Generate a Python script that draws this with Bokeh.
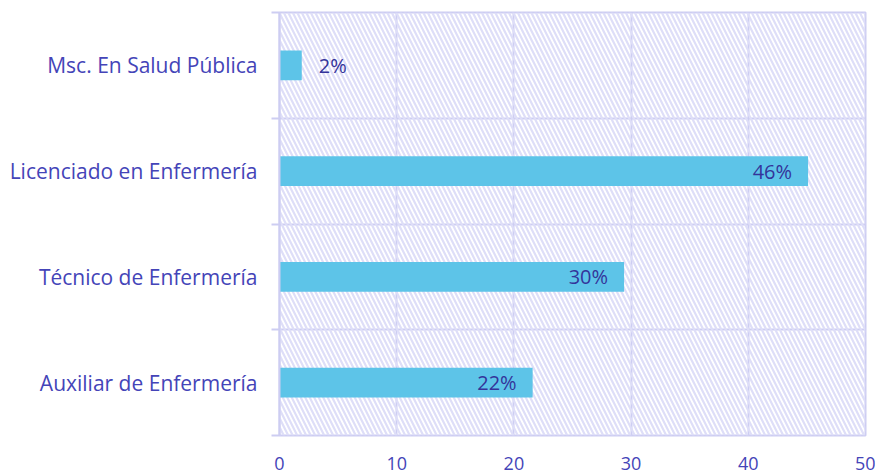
from bokeh.plotting import figure
from bokeh.models import FixedTicker, BoxAnnotation, ColumnDataSource
from bokeh.core.properties import value
from bokeh.embed import file_html
from bokeh.resources import INLINE

categories = ["Auxiliar de Enfermería", "Técnico de Enfermería", "Licenciado en Enfermería", "Msc. En Salud Pública"]
values = [21.6, 29.4, 45.1, 1.9]
labels = ["22%", "30%", "46%", "2%"]
x_ticks = [0, 10, 20, 30, 40, 50]

FONT = "Open Sans"
LAV = "#cdcdf2"
BLUE = "#4444b8"
DARK = "#34349a"
BAR = "#5dc4e8"

ypos = [i + 0.5 for i in range(len(categories))]

p = figure(width=875, height=476, output_backend="svg", toolbar_location=None,
           x_range=(0, 50), y_range=(0, len(categories)),
           min_border_left=279, min_border_right=10, min_border_top=12, min_border_bottom=41)
p.background_fill_color = "white"
p.border_fill_color = "white"
p.outline_line_color = LAV
p.outline_line_width = 2

hatch = BoxAnnotation(fill_alpha=0, line_alpha=0, hatch_pattern="\\", hatch_color="#dedef8",
                      hatch_scale=9, hatch_weight=2.2, level="underlay")
p.add_layout(hatch)

p.hbar(y=ypos, right=values, left=0, height=0.28, color=BAR, line_color=None)

inside = dict(x=[v for v in values if v > 5], y=[y for v, y in zip(values, ypos) if v > 5],
              t=[l for v, l in zip(values, labels) if v > 5])
outside = dict(x=[v for v in values if v <= 5], y=[y for v, y in zip(values, ypos) if v <= 5],
               t=[l for v, l in zip(values, labels) if v <= 5])
p.text(x="x", y="y", text="t", source=ColumnDataSource(inside), text_align="right",
       text_baseline="middle", x_offset=-16, text_font=value(FONT), text_font_size="20px",
       text_color=DARK)
p.text(x="x", y="y", text="t", source=ColumnDataSource(outside), text_align="left",
       text_baseline="middle", x_offset=17, text_font=value(FONT), text_font_size="20px",
       text_color=DARK)

# y axis
p.yaxis.ticker = FixedTicker(ticks=ypos, minor_ticks=list(range(len(categories) + 1)))
p.yaxis.major_label_overrides = {y: c for y, c in zip(ypos, categories)}
p.yaxis.major_tick_line_color = None
p.yaxis.minor_tick_line_color = LAV
p.yaxis.minor_tick_line_width = 2
p.yaxis.minor_tick_out = 8
p.yaxis.minor_tick_in = 0
p.yaxis.axis_line_color = LAV
p.yaxis.axis_line_width = 2
p.yaxis.major_label_standoff = 14
p.yaxis.major_label_text_font = FONT
p.yaxis.major_label_text_font_size = "21px"
p.yaxis.major_label_text_color = BLUE

# x axis
p.xaxis.ticker = FixedTicker(ticks=x_ticks)
p.xaxis.axis_line_color = None
p.xaxis.major_tick_line_color = None
p.xaxis.minor_tick_line_color = None
p.xaxis.major_label_standoff = 15
p.xaxis.major_label_text_font = FONT
p.xaxis.major_label_text_font_size = "18px"
p.xaxis.major_label_text_color = BLUE

p.xgrid.ticker = FixedTicker(ticks=x_ticks)
p.ygrid.ticker = FixedTicker(ticks=list(range(len(categories) + 1)))
p.xgrid.grid_line_color = LAV
p.ygrid.grid_line_color = LAV
p.xgrid.grid_line_width = 2
p.ygrid.grid_line_width = 2

open("out.html", "w").write(file_html(p, INLINE))
